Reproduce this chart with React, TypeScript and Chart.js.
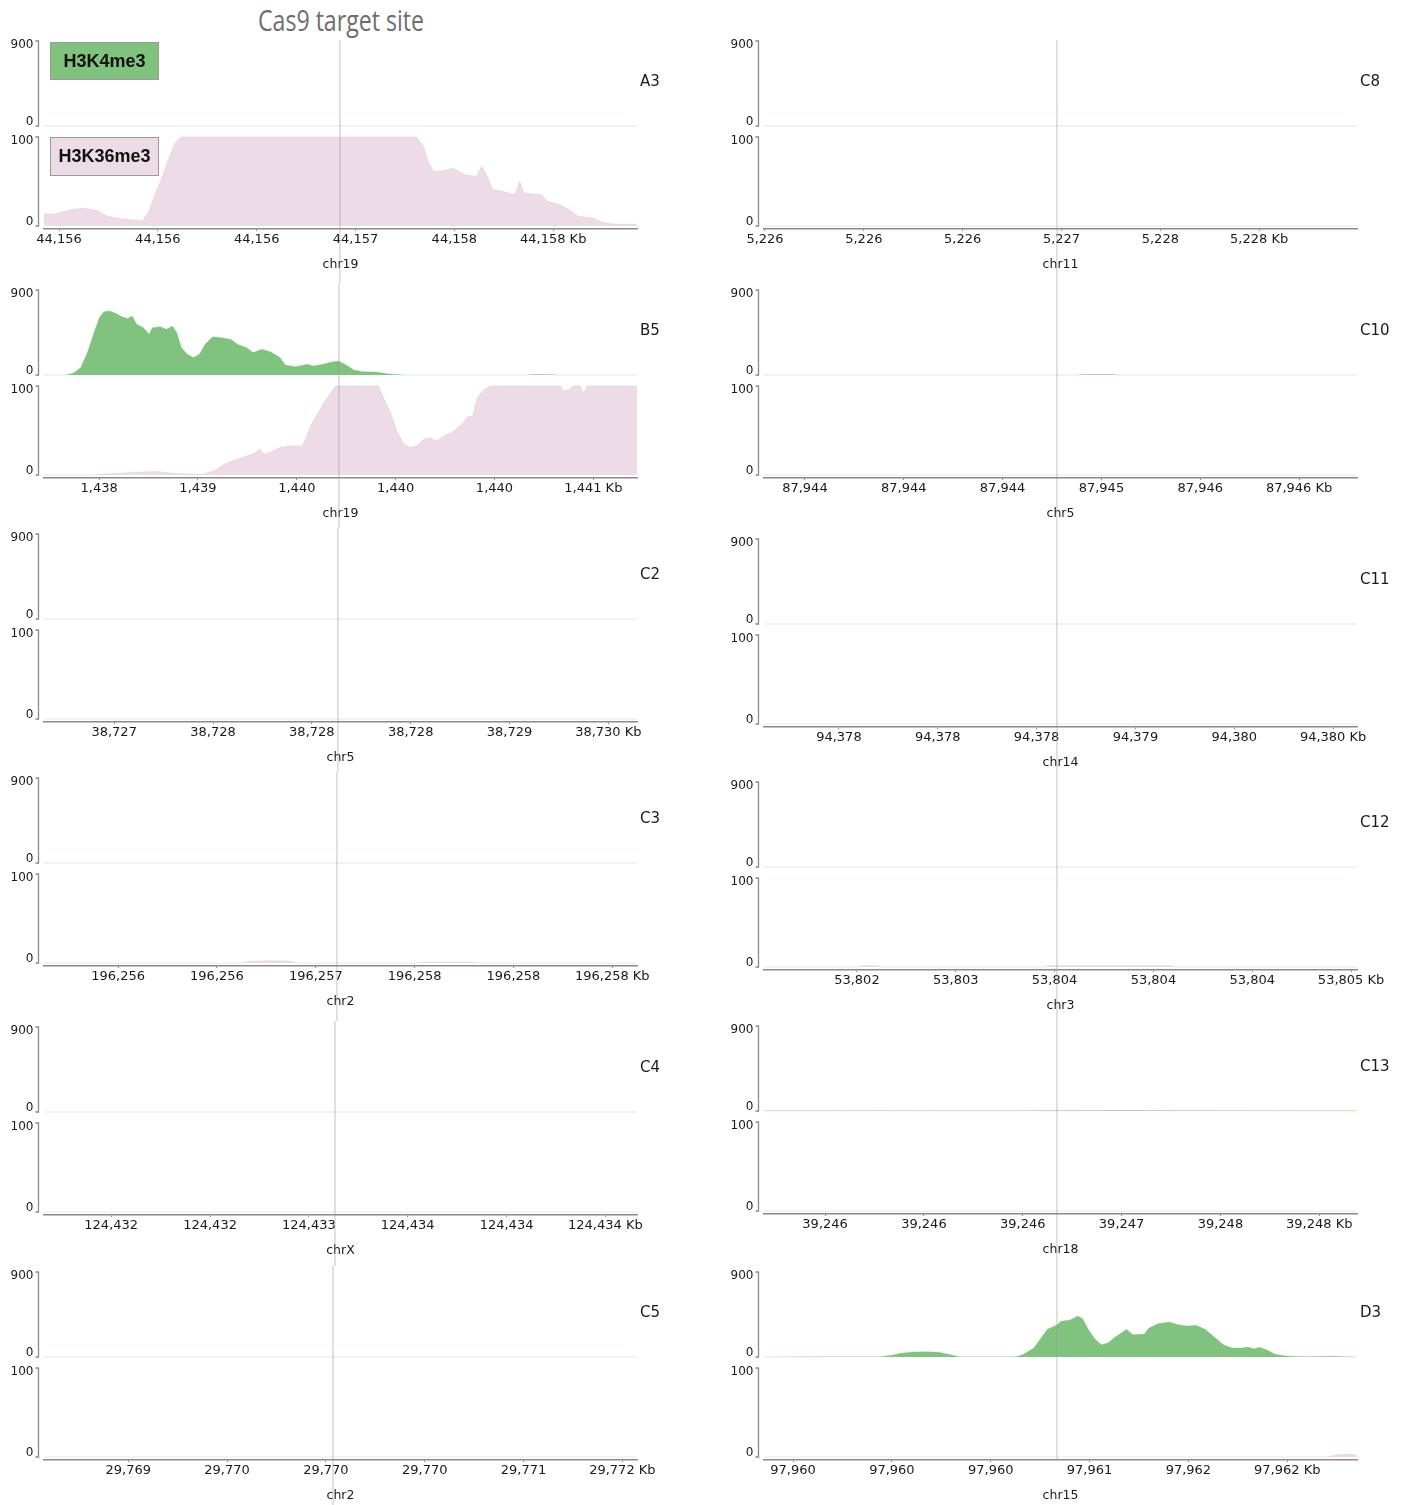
import { useEffect, useLayoutEffect, useRef } from "react";
import { Chart, registerables } from "chart.js";

Chart.register(...registerables);

// Each window spans 3 kb around a Cas9 target site; positions are bp offsets from the window start.
const WINDOW_BP = 3000;
const H3K4ME3_MAX = 900;
const H3K36ME3_MAX = 100;

const FLAT_POS = [0, 3000];
const FLAT_VAL = [0, 0];

// ---- A3 (chr19) ----
const A3_TICKS = [76, 576, 1076, 1576, 2076, 2576];
const A3_TICK_LABELS = ["44,156", "44,156", "44,156", "44,157", "44,158", "44,158 Kb"];
const A3_K4_POS = FLAT_POS;
const A3_K4_VAL = FLAT_VAL;
const A3_K36_POS = [0, 51, 81, 142, 198, 243, 274, 319, 365, 436, 497, 527, 557, 593, 628, 661, 694, 1885, 1921, 1941, 1971, 2022, 2068, 2103, 2133, 2189, 2214, 2240, 2270, 2316, 2382, 2407, 2427, 2473, 2519, 2544, 2610, 2655, 2701, 2772, 2838, 2904, 3000];
const A3_K36_VAL = [14, 13, 15, 18.5, 20, 18.5, 17, 11, 9, 7, 6, 15, 33, 52, 74, 93, 100, 100, 89, 74, 61, 62, 65, 61, 57, 56, 67, 57, 41, 39, 35, 50, 37, 36, 35, 28, 24, 18.5, 11, 9, 3, 2, 2];

// ---- B5 (chr19) ----
const B5_TICKS = [279, 779, 1279, 1779, 2279, 2779];
const B5_TICK_LABELS = ["1,438", "1,439", "1,440", "1,440", "1,440", "1,441 Kb"];
const B5_K4_POS = [0, 113, 151, 185, 219, 253, 280, 303, 332, 362, 394, 423, 446, 469, 503, 532, 548, 589, 620, 650, 672, 695, 725, 757, 786, 815, 854, 899, 945, 979, 1024, 1058, 1103, 1149, 1194, 1221, 1273, 1330, 1364, 1409, 1455, 1489, 1523, 1568, 1614, 1681, 1738, 1818, 2440, 2470, 2560, 2600, 3000];
const B5_K4_VAL = [0, 0, 25, 78, 236, 448, 607, 671, 678, 653, 618, 597, 625, 537, 501, 431, 501, 512, 484, 519, 448, 290, 219, 184, 219, 325, 406, 395, 378, 325, 290, 237, 272, 244, 184, 106, 88, 113, 95, 113, 138, 148, 113, 53, 35, 32, 14, 0, 0, 5, 5, 0, 0];
const B5_K36_POS = [0, 242, 298, 389, 457, 571, 650, 729, 809, 865, 911, 956, 1013, 1058, 1092, 1115, 1160, 1194, 1228, 1262, 1307, 1330, 1353, 1387, 1421, 1455, 1478, 1693, 1716, 1750, 1784, 1818, 1852, 1886, 1920, 1954, 1988, 2022, 2067, 2112, 2147, 2169, 2192, 2226, 2260, 2611, 2630, 2656, 2679, 2713, 2731, 2747, 3000];
const B5_K36_VAL = [0, 0, 1, 2, 3, 4, 2, 1, 1, 5, 12, 16, 20.5, 23.5, 29, 23, 27, 31, 32, 33, 32, 44, 57, 70, 83, 94, 100, 100, 87, 72, 50, 35, 31, 33, 40, 42, 38, 44, 48, 57, 66, 66, 87, 96, 100, 100, 94, 96, 100, 100, 91, 100, 100];

// ---- C2 (chr5) ----
const C2_TICKS = [355, 855, 1355, 1855, 2355, 2855];
const C2_TICK_LABELS = ["38,727", "38,728", "38,728", "38,728", "38,729", "38,730 Kb"];

// ---- C3 (chr2) ----
const C3_TICKS = [375, 875, 1375, 1875, 2375, 2875];
const C3_TICK_LABELS = ["196,256", "196,256", "196,257", "196,258", "196,258", "196,258 Kb"];
const C3_K36_POS = [0, 1000, 1040, 1150, 1250, 1280, 1880, 1920, 2150, 2190, 3000];
const C3_K36_VAL = [0, 0, 2, 2.5, 2, 0, 0, 1, 1, 0, 0];

// ---- C4 (chrX) ----
const C4_TICKS = [340, 840, 1340, 1840, 2340, 2840];
const C4_TICK_LABELS = ["124,432", "124,432", "124,433", "124,434", "124,434", "124,434 Kb"];

// ---- C5 (chr2) ----
const C5_TICKS = [426, 926, 1426, 1926, 2426, 2926];
const C5_TICK_LABELS = ["29,769", "29,770", "29,770", "29,770", "29,771", "29,772 Kb"];

// ---- C8 (chr11) ----
const C8_TICKS = [5, 505, 1005, 1505, 2005, 2505];
const C8_TICK_LABELS = ["5,226", "5,226", "5,226", "5,227", "5,228", "5,228 Kb"];

// ---- C10 (chr5) ----
const C10_TICKS = [207, 707, 1207, 1707, 2207, 2707];
const C10_TICK_LABELS = ["87,944", "87,944", "87,944", "87,945", "87,946", "87,946 Kb"];
const C10_K4_POS = [0, 1580, 1620, 1760, 1800, 3000];
const C10_K4_VAL = [0, 0, 6, 6, 0, 0];

// ---- C11 (chr14) ----
const C11_TICKS = [379, 879, 1379, 1879, 2379, 2879];
const C11_TICK_LABELS = ["94,378", "94,378", "94,378", "94,379", "94,380", "94,380 Kb"];

// ---- C12 (chr3) ----
const C12_TICKS = [470, 970, 1470, 1970, 2470, 2970];
const C12_TICK_LABELS = ["53,802", "53,803", "53,804", "53,804", "53,804", "53,805 Kb"];
const C12_K36_POS = [0, 480, 500, 570, 590, 1420, 1440, 2060, 2080, 3000];
const C12_K36_VAL = [0, 0, 1.5, 1.5, 0, 0, 1.5, 1.5, 0, 0];

// ---- C13 (chr18) ----
const C13_TICKS = [309, 809, 1309, 1809, 2309, 2809];
const C13_TICK_LABELS = ["39,246", "39,246", "39,246", "39,247", "39,248", "39,248 Kb"];
const C13_K4_POS = [0, 600, 1200, 1800, 2400, 3000];
const C13_K4_VAL = [2, 3, 2, 4, 3, 2];

// ---- D3 (chr15) ----
const D3_TICKS = [147, 647, 1147, 1647, 2147, 2647];
const D3_TICK_LABELS = ["97,960", "97,960", "97,960", "97,961", "97,962", "97,962 Kb"];
const D3_K4_POS = [0, 7, 360, 589, 646, 692, 749, 817, 886, 943, 988, 1274, 1308, 1365, 1399, 1433, 1479, 1502, 1548, 1589, 1612, 1639, 1673, 1707, 1742, 1776, 1810, 1833, 1867, 1924, 1947, 1993, 2050, 2096, 2141, 2187, 2232, 2278, 2324, 2369, 2415, 2449, 2479, 2507, 2548, 2586, 2643, 2735, 2871, 3000];
const D3_K4_VAL = [0, 0, 3.5, 3.5, 18, 39, 53, 56, 49, 25, 3.5, 3.5, 25, 95, 194, 293, 335, 378, 392, 434, 406, 300, 194, 131, 152, 212, 258, 293, 236, 244, 307, 353, 371, 342, 328, 335, 293, 212, 131, 95, 95, 106, 88, 102, 71, 28, 11, 3.5, 7, 0];
const D3_K36_POS = [0, 2850, 2900, 2960, 3000];
const D3_K36_VAL = [0, 0, 2.5, 3, 2];

type Track = { pos: number[]; val: number[] };
type PanelData = {
  name: string;
  chrom: string;
  ticks: number[];
  tickLabels: string[];
  target: number;
  k4: Track;
  k36: Track;
};

const flat: Track = { pos: FLAT_POS, val: FLAT_VAL };

const LEFT_PANELS: PanelData[] = [
  { name: "A3", chrom: "chr19", ticks: A3_TICKS, tickLabels: A3_TICK_LABELS, target: 1497, k4: { pos: A3_K4_POS, val: A3_K4_VAL }, k36: { pos: A3_K36_POS, val: A3_K36_VAL } },
  { name: "B5", chrom: "chr19", ticks: B5_TICKS, tickLabels: B5_TICK_LABELS, target: 1492, k4: { pos: B5_K4_POS, val: B5_K4_VAL }, k36: { pos: B5_K36_POS, val: B5_K36_VAL } },
  { name: "C2", chrom: "chr5", ticks: C2_TICKS, tickLabels: C2_TICK_LABELS, target: 1487, k4: flat, k36: flat },
  { name: "C3", chrom: "chr2", ticks: C3_TICKS, tickLabels: C3_TICK_LABELS, target: 1482, k4: flat, k36: { pos: C3_K36_POS, val: C3_K36_VAL } },
  { name: "C4", chrom: "chrX", ticks: C4_TICKS, tickLabels: C4_TICK_LABELS, target: 1472, k4: flat, k36: flat },
  { name: "C5", chrom: "chr2", ticks: C5_TICKS, tickLabels: C5_TICK_LABELS, target: 1462, k4: flat, k36: flat },
];

const RIGHT_PANELS: PanelData[] = [
  { name: "C8", chrom: "chr11", ticks: C8_TICKS, tickLabels: C8_TICK_LABELS, target: 1482, k4: flat, k36: flat },
  { name: "C10", chrom: "chr5", ticks: C10_TICKS, tickLabels: C10_TICK_LABELS, target: 1482, k4: { pos: C10_K4_POS, val: C10_K4_VAL }, k36: flat },
  { name: "C11", chrom: "chr14", ticks: C11_TICKS, tickLabels: C11_TICK_LABELS, target: 1482, k4: flat, k36: flat },
  { name: "C12", chrom: "chr3", ticks: C12_TICKS, tickLabels: C12_TICK_LABELS, target: 1482, k4: flat, k36: { pos: C12_K36_POS, val: C12_K36_VAL } },
  { name: "C13", chrom: "chr18", ticks: C13_TICKS, tickLabels: C13_TICK_LABELS, target: 1482, k4: { pos: C13_K4_POS, val: C13_K4_VAL }, k36: flat },
  { name: "D3", chrom: "chr15", ticks: D3_TICKS, tickLabels: D3_TICK_LABELS, target: 1482, k4: { pos: D3_K4_POS, val: D3_K4_VAL }, k36: { pos: D3_K36_POS, val: D3_K36_VAL } },
];

// ---- page layout ----
const PAGE_W = 1403;
const PAGE_H = 1505;
const COLUMNS = [
  { x: 0, w: 700, padLeft: 44, padRight: 63, tops: [41, 290, 534, 778, 1027, 1272], lineToBottom: true },
  { x: 700, w: 703, padLeft: 64, padRight: 46, tops: [41, 290, 539, 782, 1026, 1272], lineToBottom: false },
];
const TOP_PAD = 6; // room above each panel for the "900" range label
const AREA_H = 188; // both tracks, from the top track's max to the x axis
const K4_MAX_PX = 0;
const K4_ZERO_PX = 85;
const K36_MAX_PX = 96;
const K36_ZERO_PX = 185;
const X_AXIS_H = 44;

const GREEN = "rgb(127,195,127)";
const PINK = "rgb(238,219,232)";
const AXIS_GREY = "#8a8a8a";
const TEXT = "#1a1a1a";

function rangeFor(maxVal: number, maxPx: number, zeroPx: number) {
  const perPx = maxVal / (zeroPx - maxPx);
  return { min: -(AREA_H - zeroPx) * perPx, max: maxVal + maxPx * perPx };
}

function toPoints(t: Track) {
  return t.pos.map((x, i) => ({ x, y: t.val[i] }));
}

type PanelLayout = {
  x: number;
  y: number;
  w: number;
  h: number;
  padLeft: number;
  padRight: number;
  legend: boolean;
  lineFromArea: boolean;
  lineToBottom: boolean;
};

function drawRange(ctx: CanvasRenderingContext2D, scale: any, maxVal: number, x: number) {
  const yTop = scale.getPixelForValue(maxVal);
  const yBot = scale.getPixelForValue(0);
  ctx.strokeStyle = AXIS_GREY;
  ctx.lineWidth = 1.3;
  ctx.beginPath();
  ctx.moveTo(x - 3, yTop);
  ctx.lineTo(x, yTop);
  ctx.lineTo(x, yBot);
  ctx.lineTo(x - 3, yBot);
  ctx.stroke();
  ctx.fillStyle = TEXT;
  ctx.font = '12px "DejaVu Sans"';
  ctx.textAlign = "right";
  ctx.textBaseline = "top";
  ctx.fillText(String(maxVal), x - 5, yTop - 2.5);
  ctx.textBaseline = "alphabetic";
  ctx.fillText("0", x - 5, yBot - 1.5);
}

function drawLegendBox(ctx: CanvasRenderingContext2D, x: number, y: number, w: number, h: number, fill: string, label: string) {
  ctx.fillStyle = fill;
  ctx.fillRect(x, y, w, h);
  ctx.strokeStyle = "#9a9a9a";
  ctx.lineWidth = 1;
  ctx.strokeRect(x + 0.5, y + 0.5, w - 1, h - 1);
  ctx.fillStyle = "#111";
  ctx.font = 'bold 18px "Liberation Sans"';
  ctx.textAlign = "center";
  ctx.textBaseline = "middle";
  ctx.fillText(label, x + w / 2, y + h / 2 + 1);
}

function makeDecor(panel: PanelData, layout: PanelLayout) {
  return {
    id: "trackDecor",
    afterDatasetsDraw(chart: any) {
      const { ctx, chartArea, scales } = chart;
      ctx.save();
      const axisX = chartArea.left - 5.5;
      drawRange(ctx, scales.yK4, H3K4ME3_MAX, axisX);
      drawRange(ctx, scales.yK36, H3K36ME3_MAX, axisX);

      ctx.fillStyle = TEXT;
      ctx.font = '15px "DejaVu Sans"';
      ctx.textAlign = "left";
      ctx.textBaseline = "middle";
      ctx.fillText(panel.name, chartArea.right + 3, chartArea.top + 41.5);

      if (layout.legend) {
        const bx = chartArea.left + 6;
        const gy = scales.yK4.getPixelForValue(H3K4ME3_MAX) + 1;
        drawLegendBox(ctx, bx, gy, 109, 38, GREEN, "H3K4me3");
        const py = scales.yK36.getPixelForValue(H3K36ME3_MAX);
        drawLegendBox(ctx, bx, py, 109, 39, PINK, "H3K36me3");
      }

      // Cas9 target site marker
      const tx = scales.x.getPixelForValue(panel.target);
      ctx.strokeStyle = "rgba(150,150,150,0.45)";
      ctx.lineWidth = 1.3;
      ctx.beginPath();
      ctx.moveTo(tx, layout.lineFromArea ? chartArea.top - 1 : 0);
      ctx.lineTo(tx, layout.lineToBottom ? chart.height : chartArea.bottom);
      ctx.stroke();
      ctx.restore();
    },
  };
}

function buildConfig(panel: PanelData, layout: PanelLayout): any {
  const k4Range = rangeFor(H3K4ME3_MAX, K4_MAX_PX, K4_ZERO_PX);
  const k36Range = rangeFor(H3K36ME3_MAX, K36_MAX_PX, K36_ZERO_PX);
  return {
    type: "line",
    data: {
      datasets: [
        {
          label: "H3K4me3",
          data: toPoints(panel.k4),
          yAxisID: "yK4",
          fill: "origin",
          backgroundColor: GREEN,
          borderColor: "rgba(127,195,127,0.3)",
          borderWidth: 1,
          pointRadius: 0,
          tension: 0,
        },
        {
          label: "H3K36me3",
          data: toPoints(panel.k36),
          yAxisID: "yK36",
          fill: "origin",
          backgroundColor: PINK,
          borderColor: "rgba(225,195,215,0.45)",
          borderWidth: 1,
          pointRadius: 0,
          tension: 0,
        },
      ],
    },
    options: {
      responsive: false,
      animation: false,
      events: [],
      layout: {
        padding: {
          left: layout.padLeft,
          right: layout.padRight,
          top: TOP_PAD,
          bottom: layout.h - TOP_PAD - AREA_H - X_AXIS_H,
        },
      },
      plugins: {
        legend: { display: false },
        tooltip: { enabled: false },
        title: { display: false },
      },
      scales: {
        x: {
          type: "linear",
          position: "bottom",
          min: 0,
          max: WINDOW_BP,
          afterBuildTicks: (scale: any) => {
            scale.ticks = panel.ticks.map((v) => ({ value: v }));
          },
          afterFit: (scale: any) => {
            scale.height = X_AXIS_H;
          },
          ticks: {
            autoSkip: false,
            maxRotation: 0,
            minRotation: 0,
            padding: 0.5,
            color: TEXT,
            font: { family: "DejaVu Sans", size: 13 },
            callback: (_v: number, i: number) => panel.tickLabels[i],
          },
          grid: {
            display: true,
            drawOnChartArea: false,
            drawTicks: true,
            tickLength: 2,
            color: AXIS_GREY,
            lineWidth: 1,
          },
          border: { display: true, color: AXIS_GREY, width: 1.5 },
          title: {
            display: true,
            text: panel.chrom,
            color: TEXT,
            font: { family: "DejaVu Sans", size: 12.5 },
            padding: { top: 0, bottom: 0.5 },
          },
        },
        yK4: { type: "linear", display: false, position: "left", min: k4Range.min, max: k4Range.max },
        yK36: { type: "linear", display: false, position: "left", min: k36Range.min, max: k36Range.max },
      },
    },
    plugins: [makeDecor(panel, layout)],
  };
}

function TrackPanel({ panel, layout }: { panel: PanelData; layout: PanelLayout }) {
  const ref = useRef<HTMLCanvasElement>(null);
  useEffect(() => {
    if (!ref.current) return;
    const chart = new Chart(ref.current, buildConfig(panel, layout));
    return () => chart.destroy();
  }, [panel, layout]);
  return (
    <canvas
      ref={ref}
      width={layout.w}
      height={layout.h}
      style={{ position: "absolute", left: layout.x, top: layout.y, width: layout.w, height: layout.h }}
    />
  );
}

const PANEL_LAYOUTS: { panel: PanelData; layout: PanelLayout }[] = [LEFT_PANELS, RIGHT_PANELS].flatMap((panels, c) => {
  const col = COLUMNS[c];
  return panels.map((panel, i) => {
    const top = col.tops[i];
    const y = top - TOP_PAD;
    const last = i + 1 >= col.tops.length;
    const next = last ? PAGE_H : col.tops[i + 1] - TOP_PAD;
    return {
      panel,
      layout: {
        x: col.x,
        y,
        w: col.w,
        h: next - y,
        padLeft: col.padLeft,
        padRight: col.padRight,
        legend: c === 0 && i === 0,
        lineFromArea: i === 0,
        lineToBottom: col.lineToBottom || !last,
      },
    };
  });
});

const TITLE_WIDTH = 166;

export default function App() {
  const titleRef = useRef<HTMLDivElement>(null);
  useLayoutEffect(() => {
    const el = titleRef.current;
    if (!el) return;
    const w = el.getBoundingClientRect().width;
    if (w > 0) el.style.transform = `translateX(-50%) scaleX(${TITLE_WIDTH / w})`;
  }, []);

  return (
    <div style={{ position: "absolute", left: 0, top: 0, width: PAGE_W, height: PAGE_H, background: "#fff", overflow: "hidden" }}>
      <div
        ref={titleRef}
        style={{
          position: "absolute",
          left: 341,
          top: 5,
          fontFamily: '"Open Sans", sans-serif',
          fontSize: 29,
          lineHeight: "29px",
          color: "#6e6e6e",
          whiteSpace: "nowrap",
          transform: "translateX(-50%)",
        }}
      >
        Cas9 target site
      </div>
      {PANEL_LAYOUTS.map(({ panel, layout }) => (
        <TrackPanel key={panel.name} panel={panel} layout={layout} />
      ))}
    </div>
  );
}
